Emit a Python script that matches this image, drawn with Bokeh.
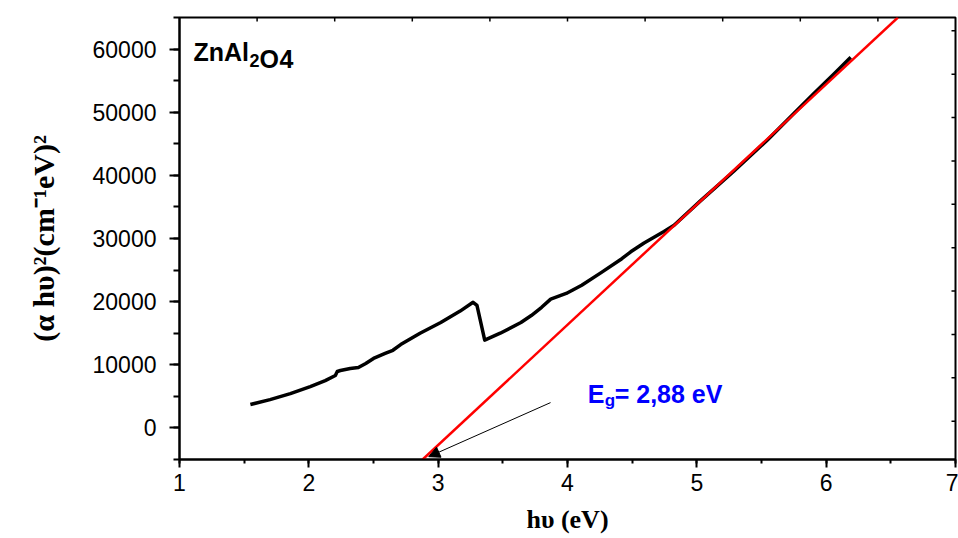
import math
from bokeh.plotting import figure
from bokeh.models import (Range1d, SingleIntervalTicker, NumeralTickFormatter, Arrow,
                          NormalHead, ColumnDataSource)
from bokeh.embed import file_html
from bokeh.resources import INLINE
from bokeh.core.properties import value

# Tauc plot of ZnAl2O4: photon energy (eV) vs (alpha*h*nu)^2
energy = [1.548, 1.70, 1.857, 2.011, 2.127, 2.205, 2.22, 2.244, 2.32, 2.383,
          2.44, 2.50, 2.59, 2.65, 2.71, 2.86, 3.02, 3.17, 3.27, 3.30,
          3.36, 3.48, 3.64, 3.72, 3.80, 3.87, 3.99, 4.11, 4.26, 4.42,
          4.489, 4.592, 4.746, 4.824, 5.03, 5.288, 5.546, 5.752, 5.907, 6.062, 6.19]
tauc = [3700, 4490, 5440, 6550, 7500, 8300, 8940, 9090, 9410, 9560,
        10200, 11000, 11800, 12300, 13200, 15000, 16700, 18500, 19900, 19400,
        13900, 15000, 16700, 17800, 19100, 20400, 21300, 22600, 24600, 26800,
        27900, 29300, 31100, 32100, 36000, 40700, 45600, 49850, 53000, 56100, 58700]

# Linear extrapolation of the absorption edge
band_gap = 2.88          # eV, where the fit line meets the bottom of the axis
fit_slope = 19050        # per eV
x_range = (1, 7)
y_range = (-5000, 65000)
fit_x = [band_gap, band_gap + (y_range[1] - y_range[0]) / fit_slope]
fit_y = [y_range[0] + fit_slope * (x - band_gap) for x in fit_x]

# Arrow pointing at the intercept
arrow_start = (3.869, 4010)
arrow_end = (2.927, -4550)

# Short inner ticks along the top and right frame edges
top_ticks = [1.6, 2.2, 2.8, 3.4, 4.0, 4.6, 5.2, 5.8, 6.4]
right_ticks = [62900, 56030, 49160, 42290, 35420, 28550, 21680, 14810, 7940, 1070]

p = figure(width=958, height=538, output_backend="svg", toolbar_location=None,
           x_range=Range1d(*x_range), y_range=Range1d(*y_range),
           min_border_left=179, min_border_right=3, min_border_top=17,
           min_border_bottom=79)
p.background_fill_color = "white"
p.border_fill_color = "white"
p.outline_line_color = "black"
p.outline_line_width = 2
p.grid.visible = False

tick_font = "Liberation Sans"
for ax in (p.xaxis[0], p.yaxis[0]):
    ax.axis_line_width = 2
    ax.major_tick_line_width = 2
    ax.minor_tick_line_width = 2
    ax.major_tick_in = 0
    ax.minor_tick_in = 0
    ax.major_label_text_font = tick_font
    ax.major_label_text_font_size = "23px"
    ax.major_label_text_color = "black"
    ax.axis_label_text_font = "Liberation Serif"
    ax.axis_label_text_font_style = "bold"
    ax.axis_label_text_color = "black"

p.xaxis[0].ticker = SingleIntervalTicker(interval=1, num_minor_ticks=2)
p.xaxis[0].major_tick_out = 8
p.xaxis[0].minor_tick_out = 4
p.xaxis[0].major_label_standoff = 6
p.xaxis[0].axis_label = "hυ (eV)"
p.xaxis[0].axis_label_text_font_size = "26px"
p.xaxis[0].axis_label_standoff = 11

p.yaxis[0].ticker = SingleIntervalTicker(interval=10000, num_minor_ticks=2)
p.yaxis[0].formatter = NumeralTickFormatter(format="0")
p.yaxis[0].major_tick_out = 10
p.yaxis[0].minor_tick_out = 6
p.yaxis[0].major_label_standoff = 13
p.yaxis[0].axis_label = "(α hυ)²(cm⁻¹eV)²"
p.yaxis[0].axis_label_text_font_size = "30px"
p.yaxis[0].axis_label_standoff = 30

# Inner ticks on the top and right edges (markers are clipped to the frame,
# so only the inward half of each dash shows)
p.scatter(top_ticks, [y_range[1]] * len(top_ticks), marker="dash", size=8,
          angle=math.pi / 2, line_color="black", line_width=1.5)
p.scatter([x_range[1]] * len(right_ticks), right_ticks, marker="dash", size=8,
          line_color="black", line_width=1.5)

# Data curve and linear fit
p.line(energy, tauc, line_color="black", line_width=3.5, line_join="round")
p.line(fit_x, fit_y, line_color="#ff0000", line_width=2.5)

p.add_layout(Arrow(end=NormalHead(size=11, fill_color="black", line_color="black",
                                  line_width=1),
                   x_start=arrow_start[0], y_start=arrow_start[1],
                   x_end=arrow_end[0], y_end=arrow_end[1],
                   line_color="black", line_width=1))

# Compound labels, drawn piece by piece for the subscripts
title_src = ColumnDataSource(dict(
    x=[1.108] * 4, y=[59500] * 4,
    text=["ZnAl", "2", "O", "4"],
    size=["25px", "18px", "25px", "25px"],
    dx=[0, 56, 66, 86], dy=[0, 8, 7, 7]))
p.text(x="x", y="y", text="text", source=title_src, text_font=value("Liberation Sans"),
       text_font_style="bold", text_font_size="size", x_offset="dx", y_offset="dy",
       text_baseline="alphabetic", text_align="left", text_color="black")

eg_src = ColumnDataSource(dict(
    x=[4.156] * 3, y=[5400] * 3,
    text=["E", "g", "= 2,88 eV"],
    size=["25px", "17px", "25px"],
    dx=[0, 17, 27], dy=[0, 7, 0]))
p.text(x="x", y="y", text="text", source=eg_src, text_font=value("Liberation Sans"),
       text_font_style="bold", text_font_size="size", x_offset="dx", y_offset="dy",
       text_baseline="alphabetic", text_align="left", text_color="#0000ff")

open("out.html", "w").write(file_html(p, INLINE))
